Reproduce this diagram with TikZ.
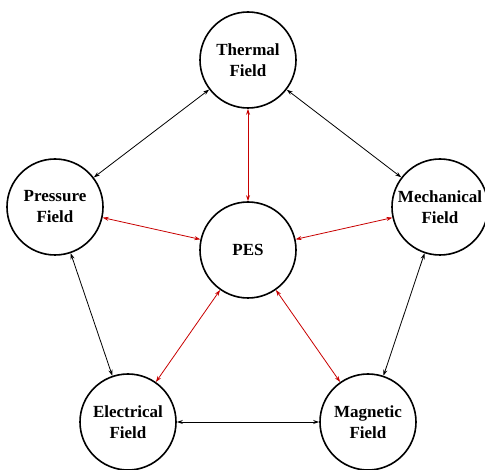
\documentclass[tikz,border=0pt]{standalone}
\usepackage{fontspec}
\setmainfont{Liberation Serif}
\usetikzlibrary{arrows.meta}
\usetikzlibrary{positioning}

\definecolor{pesred}{RGB}{200,0,0}

\tikzset{
  field/.style={circle, draw, line width=1.6pt, minimum size=96pt, inner sep=0pt,
                align=center, font=\fontsize{17}{21}\selectfont\bfseries},
  link/.style={{Stealth[length=6pt,width=4pt]}-{Stealth[length=6pt,width=4pt]}, line width=0.8pt},
  pes link/.style={link, pesred}
}

\begin{document}
\begin{tikzpicture}[x=1pt, y=-1pt]

 \useasboundingbox (0,0) rectangle (485,470);

 %fields
 \node[field] (thermal) at (248, 60) {Thermal\\Field};
 \node[field] (pressure) at (55, 207) {Pressure\\Field};
 \node[field] (mechanical) at (440, 207) {Mechanical\\Field};
 \node[field] (electrical) at (128, 422) {Electrical\\Field};
 \node[field] (magnetic) at (368, 422) {Magnetic\\Field};

 %centre
 \node[field] (pes) at (248, 250) {PES};

 %outer ring
 \draw[link] (thermal) -- (pressure);
 \draw[link] (thermal) -- (mechanical);
 \draw[link] (pressure) -- (electrical);
 \draw[link] (mechanical) -- (magnetic);
 \draw[link] (electrical) -- (magnetic);

 %spokes
 \foreach \name in {thermal, pressure, mechanical, electrical, magnetic} {
         \draw[pes link] (pes) -- (\name);
 }

\end{tikzpicture}
\end{document}
